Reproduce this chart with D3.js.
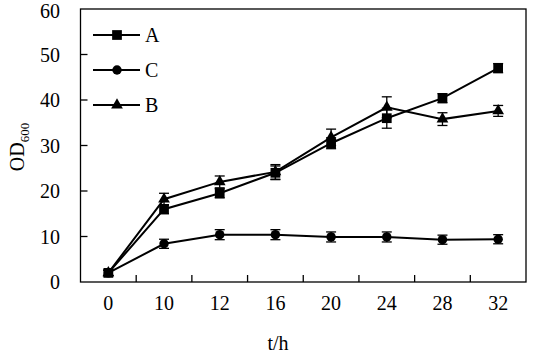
<!DOCTYPE html>
<html>
<head>
<meta charset="utf-8">
<script src="https://cdn.jsdelivr.net/npm/d3@7"></script>
<style>
  body { margin: 0; background: #fff; }
  svg text { font-family: "Liberation Serif", "Times New Roman", serif; fill: #000; }
</style>
</head>
<body>
<svg id="chart" width="541" height="355"></svg>
<script>
// sampling times (categorical axis)
const times = ["0", "10", "12", "16", "20", "24", "28", "32"];

// OD600 means and error bars
const seriesA = [2.0, 16.0, 19.5, 24.0, 30.5, 36.0, 40.4, 47.0];
const errA    = [0.6, 1.0, 1.0, 1.5, 1.2, 2.2, 1.0, 1.0];
const seriesB = [2.0, 18.2, 22.0, 24.2, 31.8, 38.4, 35.8, 37.6];
const errB    = [0.6, 1.3, 1.3, 1.6, 1.8, 2.3, 1.4, 1.2];
const seriesC = [2.0, 8.4, 10.4, 10.4, 9.9, 9.9, 9.3, 9.4];
const errC    = [0.6, 1.0, 1.1, 1.1, 1.1, 1.1, 1.0, 1.0];

const yTicks = [0, 10, 20, 30, 40, 50, 60];

const series = [
  { name: "A", values: seriesA, err: errA, symbol: d3.symbolSquare, size: 95 },
  { name: "C", values: seriesC, err: errC, symbol: d3.symbolCircle, size: 70 },
  { name: "B", values: seriesB, err: errB, symbol: d3.symbolTriangle, size: 60 }
];

const svg = d3.select("#chart");
const plotL = 80.5, plotR = 526, plotT = 9, plotB = 282;

const x = d3.scaleBand().domain(times).range([plotL, plotR]).padding(0);
const y = d3.scaleLinear().domain([0, 60]).range([plotB, plotT]);

// frame
svg.append("rect")
  .attr("x", plotL).attr("y", plotT)
  .attr("width", plotR - plotL).attr("height", plotB - plotT)
  .attr("fill", "none").attr("stroke", "#000").attr("stroke-width", 1.3);

// y ticks (inward) and labels
svg.selectAll(".ytick")
  .data(yTicks.filter(d => d > 0 && d < 60))
  .join("line")
  .attr("x1", plotL).attr("x2", plotL + 7)
  .attr("y1", d => y(d)).attr("y2", d => y(d))
  .attr("stroke", "#000").attr("stroke-width", 1.3);

svg.selectAll(".ylab")
  .data(yTicks)
  .join("text")
  .attr("x", 60).attr("y", d => Math.max(y(d), 11))
  .attr("dy", "0.35em")
  .attr("text-anchor", "end")
  .attr("font-size", 20)
  .text(d => d);

// x ticks at band boundaries (inward)
svg.selectAll(".xtick")
  .data(times.slice(1))
  .join("line")
  .attr("x1", d => x(d)).attr("x2", d => x(d))
  .attr("y1", plotB).attr("y2", plotB - 7)
  .attr("stroke", "#000").attr("stroke-width", 1.3);

svg.selectAll(".xlab")
  .data(times)
  .join("text")
  .attr("x", d => x(d) + x.bandwidth() / 2)
  .attr("y", 303)
  .attr("dy", "0.35em")
  .attr("text-anchor", "middle")
  .attr("font-size", 20)
  .text(d => d);

// axis titles
svg.append("text")
  .attr("x", 278).attr("y", 343)
  .attr("dy", "0.35em")
  .attr("text-anchor", "middle")
  .attr("font-size", 20)
  .text("t/h");

const yt = svg.append("text")
  .attr("transform", "translate(24,147) rotate(-90)")
  .attr("text-anchor", "middle")
  .attr("font-size", 20);
yt.append("tspan").text("OD");
yt.append("tspan").attr("font-size", 13).attr("dy", 5).text("600");

const cx = (d, i) => x(times[i]) + x.bandwidth() / 2;
const line = d3.line().x(cx).y(d => y(d));

series.forEach(s => {
  const g = svg.append("g");
  g.append("path")
    .attr("d", line(s.values))
    .attr("fill", "none").attr("stroke", "#000").attr("stroke-width", 2);

  const eb = g.selectAll(".eb").data(s.values).join("g");
  eb.append("line")
    .attr("x1", cx).attr("x2", cx)
    .attr("y1", (d, i) => y(d + s.err[i])).attr("y2", (d, i) => y(d - s.err[i]))
    .attr("stroke", "#000").attr("stroke-width", 1.3);
  [1, -1].forEach(sign => {
    eb.append("line")
      .attr("x1", (d, i) => cx(d, i) - 5).attr("x2", (d, i) => cx(d, i) + 5)
      .attr("y1", (d, i) => y(d + sign * s.err[i])).attr("y2", (d, i) => y(d + sign * s.err[i]))
      .attr("stroke", "#000").attr("stroke-width", 1.3);
  });

  g.selectAll(".pt").data(s.values).join("path")
    .attr("transform", (d, i) => `translate(${cx(d, i)},${y(d)})`)
    .attr("d", d3.symbol().type(s.symbol).size(s.size))
    .attr("fill", "#000");
});

// legend
const legendY = [35, 70, 105];
const lg = svg.selectAll(".legend").data(series).join("g")
  .attr("transform", (d, i) => `translate(0,${legendY[i]})`);
lg.append("line")
  .attr("x1", 93).attr("x2", 140).attr("y1", 0).attr("y2", 0)
  .attr("stroke", "#000").attr("stroke-width", 2);
lg.append("path")
  .attr("transform", "translate(117,0)")
  .attr("d", d => d3.symbol().type(d.symbol).size(d.size)());
lg.append("text")
  .attr("x", 145).attr("y", 0).attr("dy", "0.35em")
  .attr("font-size", 20)
  .text(d => d.name);
</script>
</body>
</html>
